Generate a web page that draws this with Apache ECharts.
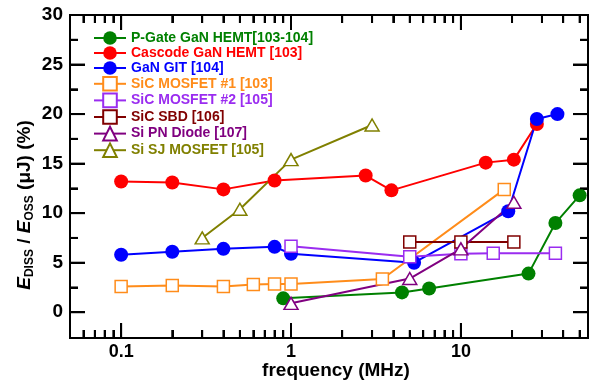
<!doctype html>
<html lang="en">
<head>
<meta charset="UTF-8">
<title>E_DISS / E_OSS vs frequency</title>
<script src="https://cdn.jsdelivr.net/npm/echarts@6/dist/echarts.min.js"></script>
<style>
    * {
        margin: 0;
        padding: 0;
    }
    #main {
        width: 598px;
        height: 386px;
    }
</style>
</head>
<body>
<div id="main"></div>
<script>
    // [frequency (MHz), Ediss/Eoss (%)]
    var pgateGaN = [[0.9, 1.4], [4.5, 2.0], [6.5, 2.4], [25, 3.9], [36, 9.0], [50, 11.8]];
    var cascodeGaN = [[0.1, 13.2], [0.2, 13.1], [0.4, 12.4], [0.8, 13.3], [2.75, 13.8], [3.9, 12.3], [14, 15.1], [20.5, 15.4], [28, 19.0]];
    var ganGIT = [[0.1, 5.8], [0.2, 6.1], [0.4, 6.4], [0.8, 6.6], [1.0, 5.9], [5.3, 5.0], [19, 10.2], [28, 19.5], [37, 20.0]];
    var sicMos1 = [[0.1, 2.6], [0.2, 2.7], [0.4, 2.6], [0.6, 2.8], [0.8, 2.85], [1.0, 2.85], [3.45, 3.35], [18, 12.4]];
    var sicMos2 = [[1.0, 6.65], [5.0, 5.6], [10, 5.9], [15.5, 5.95], [36, 5.95]];
    var sicSBD = [[5.0, 7.1], [10, 7.1], [20.5, 7.1]];
    var siPN = [[1.0, 0.9], [5.0, 3.4], [10, 6.4], [20.5, 11.1]];
    var siSJ = [[0.3, 7.5], [0.5, 10.4], [1.0, 15.4], [3.0, 18.9]];

    var names = ['P-Gate GaN HEMT[103-104]', 'Cascode GaN HEMT [103]', 'GaN GIT [104]', 'SiC MOSFET #1 [103]',
        'SiC MOSFET #2 [105]', 'SiC SBD [106]', 'Si PN Diode [107]', 'Si SJ MOSFET [105]'];
    var colors = ['#008000', '#ff0000', '#0000ff', '#ff8c1a', '#9a2cf0', '#800000', '#800080', '#808000'];

    var xMajor = [0.1, 1, 10];
    var xMinor = [0.05, 0.06, 0.07, 0.08, 0.09, 0.2, 0.3, 0.4, 0.5, 0.6, 0.7, 0.8, 0.9,
        2, 3, 4, 5, 6, 7, 8, 9, 20, 30, 40, 50];
    var yMajor = [0, 5, 10, 15, 20, 25, 30];
    var yMinor = [2.5, 7.5, 12.5, 17.5, 22.5, 27.5];

    var xMin = 0.05, xMax = 56, yMin = -2.6, yMax = 30;
    var font = "'Liberation Sans', Arial, sans-serif";

    function blank() { return ''; }

    function xAxis(pos, ticks, len, labels) {
        return {
            type: 'log', position: pos, min: xMin, max: xMax,
            axisLine: {show: true, onZero: false, lineStyle: {color: '#000', width: 2}},
            axisTick: {show: true, inside: true, length: len, customValues: ticks, lineStyle: {color: '#000', width: 2}},
            axisLabel: {
                show: true, customValues: xMajor, color: '#000', fontSize: 18, fontWeight: 'bold',
                fontFamily: font, margin: 5,
                formatter: labels ? function (v) { return String(v); } : blank
            },
            splitLine: {show: false}
        };
    }

    function yAxis(pos, ticks, len, labels) {
        return {
            type: 'value', position: pos, min: yMin, max: yMax,
            axisLine: {show: true, onZero: false, lineStyle: {color: '#000', width: 2}},
            axisTick: {show: true, inside: true, length: len, customValues: ticks, lineStyle: {color: '#000', width: 2}},
            axisLabel: {
                show: true, customValues: yMajor, color: '#000', fontSize: 19, fontWeight: 'bold',
                fontFamily: font, margin: 7,
                formatter: labels ? '{value}' : blank
            },
            splitLine: {show: false}
        };
    }

    // backup tick marks, placed through the axes' own scales
    var xTickData = xMajor.map(function (v) { return [v, 15]; })
        .concat(xMinor.map(function (v) { return [v, 8]; }));
    var yTickData = yMajor.map(function (v) { return [15, v]; })
        .concat(yMinor.map(function (v) { return [8, v]; }));

    function tick(x1, y1, x2, y2) {
        return {type: 'line', shape: {x1: x1, y1: y1, x2: x2, y2: y2}, style: {stroke: '#000', lineWidth: 2}};
    }

    function line(i, data, symbol, hollow) {
        var c = colors[i];
        return {
            name: names[i], type: 'line', data: data,
            symbol: symbol,
            symbolSize: symbol === 'circle' ? 14 : (symbol === 'rect' ? 12 : [14, 12]),
            lineStyle: {color: c, width: 2},
            itemStyle: hollow ? {color: '#fff', borderColor: c, borderWidth: 1.5} : {color: c}
        };
    }

    var chart = echarts.init(document.getElementById('main'));
    chart.setOption({
        animation: false,
        grid: {left: 70, right: 10, top: 15, bottom: 48},
        xAxis: [
            xAxis('bottom', xMajor, 15, true),
            xAxis('bottom', xMinor, 8, false),
            xAxis('top', xMajor, 15, false),
            xAxis('top', xMinor, 8, false)
        ],
        yAxis: [
            yAxis('left', yMajor, 15, true),
            yAxis('left', yMinor, 8, false),
            yAxis('right', yMajor, 15, false),
            yAxis('right', yMinor, 8, false)
        ],
        legend: {
            orient: 'vertical', left: 88, top: 26,
            itemWidth: 32, itemHeight: 17, itemGap: 1,
            textStyle: {fontSize: 14, fontWeight: 'bold', fontFamily: font},
            data: names.map(function (n, i) {
                return {name: n, textStyle: {color: colors[i]}};
            })
        },
        graphic: [{
            type: 'text', x: 25, y: 205, rotation: Math.PI / 2,
            style: {
                text: '{e|E}{s|DISS}{t| / }{e|E}{s|OSS}{t| (μJ) (%)}',
                align: 'center', verticalAlign: 'middle',
                rich: {
                    e: {fontSize: 19, fontWeight: 'bold', fontStyle: 'italic', fontFamily: font, fill: '#000'},
                    s: {fontSize: 12, fontWeight: 'bold', fontFamily: font, fill: '#000', padding: [9, 0, 0, 0]},
                    t: {fontSize: 19, fontWeight: 'bold', fontFamily: font, fill: '#000'}
                }
            }
        }, {
            type: 'text', x: 336, y: 371,
            style: {
                text: 'frequency (MHz)', align: 'center', verticalAlign: 'middle',
                fontSize: 19, fontWeight: 'bold', fontFamily: font, fill: '#000'
            }
        }],
        series: [
            line(0, pgateGaN, 'circle', false),
            line(1, cascodeGaN, 'circle', false),
            line(2, ganGIT, 'circle', false),
            line(3, sicMos1, 'rect', true),
            line(4, sicMos2, 'rect', true),
            line(5, sicSBD, 'rect', true),
            line(6, siPN, 'triangle', true),
            line(7, siSJ, 'triangle', true),
            {
                type: 'custom', name: 'xTicks', silent: true, z: 10, clip: false, data: xTickData,
                renderItem: function (params, api) {
                    var len = api.value(1);
                    var b = api.coord([api.value(0), yMin]);
                    var t = api.coord([api.value(0), yMax]);
                    return {type: 'group', children: [tick(b[0], b[1], b[0], b[1] - len), tick(t[0], t[1], t[0], t[1] + len)]};
                }
            },
            {
                type: 'custom', name: 'yTicks', silent: true, z: 10, clip: false, data: yTickData,
                renderItem: function (params, api) {
                    var len = api.value(0);
                    var l = api.coord([xMin, api.value(1)]);
                    var r = api.coord([xMax, api.value(1)]);
                    return {type: 'group', children: [tick(l[0], l[1], l[0] + len, l[1]), tick(r[0], r[1], r[0] - len, r[1])]};
                }
            }
        ]
    });
</script>
</body>
</html>
